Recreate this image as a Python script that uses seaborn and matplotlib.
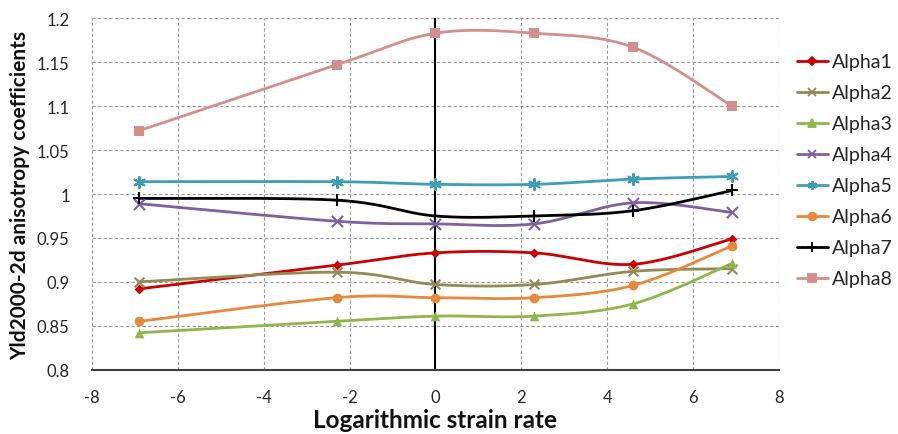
import numpy as np
import pandas as pd
import matplotlib
matplotlib.use("Agg")
import matplotlib.pyplot as plt
from matplotlib.lines import Line2D
import seaborn as sns

# Logarithmic strain rate (ln of 0.001, 0.1, 1, 10, 100, 1000 /s)
strain_rate = [-6.908, -2.303, 0.0, 2.303, 4.605, 6.908]

alpha1 = [0.892, 0.919, 0.933, 0.933, 0.920, 0.949]
alpha2 = [0.900, 0.911, 0.897, 0.897, 0.912, 0.915]
alpha3 = [0.842, 0.855, 0.861, 0.861, 0.875, 0.921]
alpha4 = [0.989, 0.969, 0.966, 0.966, 0.990, 0.979]
alpha5 = [1.014, 1.014, 1.011, 1.011, 1.017, 1.020]
alpha6 = [0.855, 0.882, 0.882, 0.882, 0.896, 0.941]
alpha7 = [0.995, 0.993, 0.975, 0.975, 0.981, 1.004]
alpha8 = [1.072, 1.147, 1.183, 1.183, 1.167, 1.100]

series_names = ["Alpha1", "Alpha2", "Alpha3", "Alpha4",
                "Alpha5", "Alpha6", "Alpha7", "Alpha8"]
series_values = [alpha1, alpha2, alpha3, alpha4,
                 alpha5, alpha6, alpha7, alpha8]

colors = ["#CC0000", "#948A54", "#8DB849", "#7E5FA0",
          "#3E9DB8", "#E8883A", "#000000", "#D48E8C"]
markers = ["D", "x", "^", "x", (6, 2, 0), "o", "+", "s"]
msizes = [5, 7, 7, 8, 8, 7, 9, 7]


def smooth_curve(xs, ys, n=40):
    """Catmull-Rom style Bezier smoothing through the given points."""
    p = np.column_stack([xs, ys]).astype(float)
    ext = np.vstack([p[0], p, p[-1]])
    out = []
    t = np.linspace(0, 1, n)[:, None]
    for i in range(len(p) - 1):
        p0, p1, p2, p3 = ext[i], ext[i + 1], ext[i + 2], ext[i + 3]
        c1 = p1 + (p2 - p0) / 6.0
        c2 = p2 - (p3 - p1) / 6.0
        seg = ((1 - t) ** 3) * p1 + 3 * ((1 - t) ** 2) * t * c1 \
            + 3 * (1 - t) * t ** 2 * c2 + t ** 3 * p2
        out.append(seg if i == 0 else seg[1:])
    out = np.vstack(out)
    return out[:, 0], out[:, 1]


sns.set_theme(style="white")
plt.rcParams["font.family"] = ["Lato", "DejaVu Sans"]
plt.rcParams["axes.unicode_minus"] = False

fig = plt.figure(figsize=(8.98, 4.35), dpi=100)
ax = fig.add_axes([0.1024, 0.1478, 0.7651, 0.8078])

handles = []
for name, vals, col, mk, ms in zip(series_names, series_values,
                                   colors, markers, msizes):
    sx, sy = smooth_curve(strain_rate, vals)
    curve = pd.DataFrame({"x": sx, "y": sy})
    sns.lineplot(data=curve, x="x", y="y", ax=ax, color=col, lw=2.0,
                 sort=False, estimator=None, legend=False, zorder=3)
    pts = pd.DataFrame({"x": strain_rate, "y": vals})
    stroke = mk in ("x", "+") or isinstance(mk, tuple)
    sns.scatterplot(data=pts, x="x", y="y", ax=ax, color=col, marker=mk,
                    s=ms ** 2, linewidth=1.5 if stroke else 0,
                    edgecolor=col, legend=False, zorder=4)
    handles.append(Line2D([0], [0], color=col, lw=2.0, marker=mk,
                          markersize=ms * 0.8, markeredgewidth=1.3,
                          markeredgecolor=col, label=name))

ax.set_xlim(-8, 8)
ax.set_ylim(0.8, 1.2)
ax.set_xticks(np.arange(-8, 9, 2))
ax.set_yticks(np.arange(0.8, 1.201, 0.05))
ax.set_yticklabels(["0.8", "0.85", "0.9", "0.95", "1", "1.05",
                    "1.1", "1.15", "1.2"])

ax.grid(True, color="#9A9A9A", linestyle=(0, (3, 2)), lw=0.8)
ax.set_axisbelow(True)
for side in ("top", "right", "left"):
    ax.spines[side].set_visible(False)
ax.spines["bottom"].set_color("#404040")
ax.spines["bottom"].set_linewidth(1.5)
ax.axvline(0, color="#000000", lw=1.5, zorder=2)

ax.tick_params(axis="both", length=0, labelsize=12, colors="#262626")
ax.tick_params(axis="x", pad=14)
ax.tick_params(axis="y", pad=16)

ax.set_xlabel("Logarithmic strain rate", fontsize=17.5, fontweight="bold",
              color="#111111")
ax.xaxis.set_label_coords(0.5, -0.108)
ax.set_ylabel("Yld2000-2d anisotropy coefficients", fontsize=15,
              fontweight="bold", color="#111111")
ax.yaxis.set_label_coords(-0.09, 0.5)

fig.legend(handles=handles, loc="upper left", bbox_to_anchor=(0.887, 0.875),
           frameon=False, fontsize=14, handlelength=1.6,
           labelspacing=0.72, handletextpad=0.2, borderaxespad=0,
           borderpad=0)

fig.savefig("out.png", dpi=100)
